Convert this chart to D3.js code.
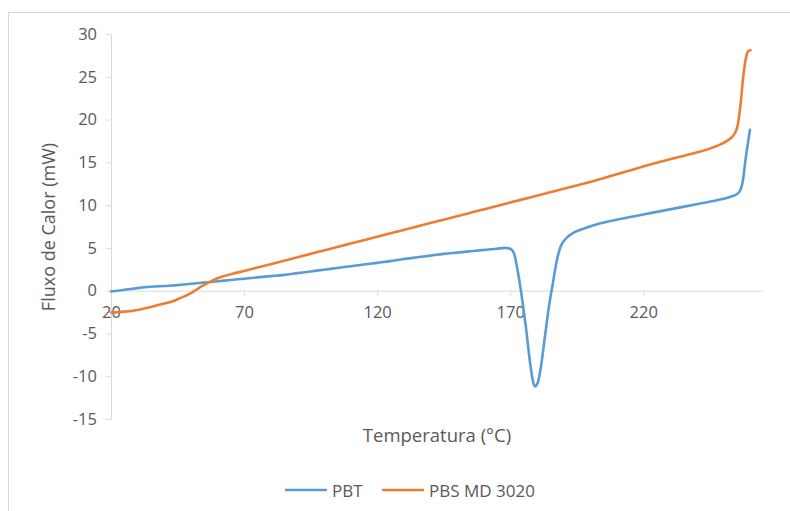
<!DOCTYPE html>
<html>
<head>
<meta charset="utf-8">
<script src="https://cdn.jsdelivr.net/npm/d3@7"></script>
<style>
  html, body { margin: 0; padding: 0; background: #fff; }
  svg text { font-family: "Open Sans", "Noto Sans", sans-serif; fill: #595959; }
</style>
</head>
<body>
<svg id="chart" width="790" height="511"></svg>
<script>
// ---- Data ----
const pbtTemp = [20,25,30,35,40,45,50,55,60,65,70,75,80,85,90,95,100,105,110,115,120,125,130,135,140,145,150,155,160,165,168,170,171.5,173,174.5,176,177.5,178.5,179.3,180.3,181.5,183,184.5,186,187.5,189,191,194,198,203,210,220,230,240,248,252,254,256,257.3,258.6,259.5,260.1];
const pbtFlow = [-0.1,0.1,0.3,0.45,0.55,0.65,0.8,0.95,1.1,1.25,1.4,1.55,1.7,1.85,2.05,2.25,2.45,2.65,2.85,3.05,3.25,3.45,3.7,3.9,4.1,4.3,4.45,4.6,4.75,4.9,5.0,4.9,4.3,2.0,-1.0,-4.5,-8.5,-10.5,-11.2,-10.8,-9.0,-5.5,-2.0,0.8,3.5,5.2,6.1,6.8,7.3,7.8,8.3,8.9,9.5,10.1,10.6,10.9,11.1,11.5,12.6,15.7,17.6,18.8];

const pbsTemp = [20,25,30,35,40,44,45,48,51,54,57,60,63,66,70,75,80,85,90,95,100,105,110,115,120,125,130,135,140,145,150,155,160,165,170,175,180,185,190,195,200,205,210,215,220,225,230,235,240,245,249,252,254,255.4,256.2,256.8,257.5,258.2,258.8,259.5,260.3];
const pbsFlow = [-2.55,-2.45,-2.25,-1.9,-1.5,-1.15,-1.0,-0.6,-0.1,0.5,1.0,1.45,1.75,2.0,2.3,2.7,3.1,3.5,3.9,4.3,4.7,5.1,5.5,5.9,6.3,6.7,7.1,7.5,7.9,8.3,8.7,9.1,9.5,9.9,10.3,10.7,11.1,11.5,11.9,12.3,12.7,13.15,13.6,14.05,14.5,14.95,15.35,15.75,16.15,16.6,17.1,17.6,18.2,19.2,20.8,22.5,24.8,26.5,27.5,28.0,28.1];

const xTicks = [20, 70, 120, 170, 220];
const yTicks = [-15, -10, -5, 0, 5, 10, 15, 20, 25, 30];
const seriesNames = ["PBT", "PBS MD 3020"];
const xTitle = "Temperatura (°C)";
const yTitle = "Fluxo de Calor (mW)";

// ---- Setup ----
const svg = d3.select("#chart");
const colors = ["#5B9BD5", "#ED7D31"];
const axisColor = "#D9D9D9";

// outer chart border
svg.append("rect")
  .attr("x", 8.5).attr("y", 12.5)
  .attr("width", 800).attr("height", 520)
  .attr("fill", "none").attr("stroke", axisColor).attr("stroke-width", 1);

const x = d3.scaleLinear().domain([20, 265]).range([111, 763]);
const y = d3.scaleLinear().domain([-15, 30]).range([419, 34]);
const fmt = d => String(d);

// Y axis
const yAxis = d3.axisLeft(y).tickValues(yTicks).tickSize(5).tickPadding(9).tickFormat(fmt);
const gy = svg.append("g").attr("transform", `translate(${x(20)},0)`).call(yAxis);
gy.select(".domain").attr("stroke", axisColor);
gy.selectAll(".tick line").attr("stroke", axisColor);
gy.selectAll(".tick text")
  .attr("font-size", 16.5).attr("fill", "#595959")
  .style("font-family", '"Open Sans", sans-serif');

// X axis at y = 0
const xAxis = d3.axisBottom(x).tickValues(xTicks).tickSize(5).tickPadding(11).tickFormat(fmt).tickSizeOuter(0);
const gx = svg.append("g").attr("transform", `translate(0,${y(0)})`).call(xAxis);
gx.select(".domain").attr("stroke", axisColor);
gx.selectAll(".tick line").attr("stroke", axisColor);
gx.selectAll(".tick text")
  .attr("font-size", 16.5).attr("fill", "#595959")
  .style("font-family", '"Open Sans", sans-serif');

// Lines
const line = d3.line().x(d => x(d[0])).y(d => y(d[1])).curve(d3.curveMonotoneX);
const pbt = pbtTemp.map((t, i) => [t, pbtFlow[i]]);
const pbs = pbsTemp.map((t, i) => [t, pbsFlow[i]]);

[pbt, pbs].forEach((data, i) => {
  svg.append("path")
    .datum(data)
    .attr("fill", "none")
    .attr("stroke", colors[i])
    .attr("stroke-width", 2.6)
    .attr("stroke-linejoin", "round")
    .attr("stroke-linecap", "round")
    .attr("d", line);
});

// Axis titles
svg.append("text")
  .attr("x", 437).attr("y", 442)
  .attr("text-anchor", "middle")
  .attr("font-size", 18.5)
  .text(xTitle);

svg.append("text")
  .attr("transform", "translate(49,227) rotate(-90)")
  .attr("text-anchor", "middle")
  .attr("dy", "0.36em")
  .attr("font-size", 18)
  .text(yTitle);

// Legend
const legendItems = [
  { x1: 285, x2: 327, tx: 332 },
  { x1: 382, x2: 424, tx: 429 }
];
legendItems.forEach((it, i) => {
  svg.append("line")
    .attr("x1", it.x1).attr("x2", it.x2)
    .attr("y1", 490).attr("y2", 490)
    .attr("stroke", colors[i]).attr("stroke-width", 2.6);
  svg.append("text")
    .attr("x", it.tx).attr("y", 496.5)
    .attr("font-size", 17)
    .text(seriesNames[i]);
});
</script>
</body>
</html>
